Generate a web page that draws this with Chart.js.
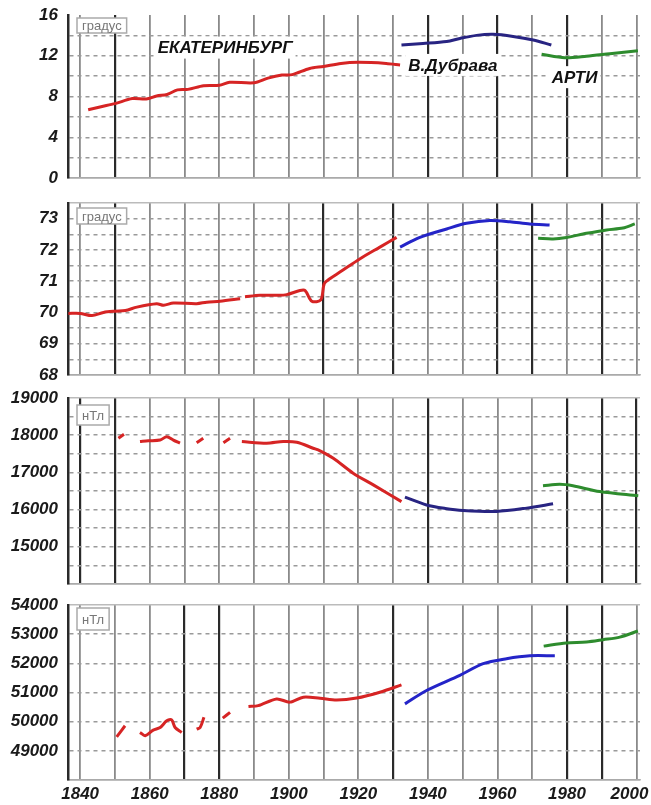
<!DOCTYPE html>
<html>
<head>
<meta charset="utf-8">
<script src="https://cdn.jsdelivr.net/npm/chart.js@4.4.1/dist/chart.umd.min.js"></script>
<style>
  body { margin: 0; background: #fff; width: 651px; height: 805px; position: relative; overflow: hidden; }
  canvas { position: absolute; left: 0; }
</style>
</head>
<body>
<canvas id="c1" width="651" height="188" style="top:0px"></canvas>
<canvas id="c2" width="651" height="195" style="top:190px"></canvas>
<canvas id="c3" width="651" height="210" style="top:385px"></canvas>
<canvas id="c4" width="651" height="215" style="top:590px"></canvas>
<script>
// x axis (years)
const xTicks = [1840, 1850, 1860, 1870, 1880, 1890, 1900, 1910, 1920, 1930, 1940, 1950, 1960, 1970, 1980, 1990, 2000];
const xLabels = [1840, 1860, 1880, 1900, 1920, 1940, 1960, 1980, 2000];

// panel 1 (градус, 0..16)
const p1Ticks = [0, 2, 4, 6, 8, 10, 12, 14, 16];
const p1Labels = [0, 4, 8, 12, 16];
const p1RedYears = [1842.3, 1846, 1850, 1855, 1859, 1862, 1865, 1868, 1871, 1875.5, 1880, 1883, 1890, 1894, 1898, 1901, 1906, 1910, 1915, 1920, 1928, 1932];
const p1RedVals = [6.7, 7.0, 7.3, 7.8, 7.75, 8.05, 8.2, 8.65, 8.7, 9.05, 9.1, 9.4, 9.35, 9.8, 10.1, 10.15, 10.75, 10.95, 11.25, 11.35, 11.25, 11.1];
const p1BlueYears = [1932.4, 1938.6, 1945.4, 1949.2, 1954, 1958.8, 1964.5, 1970.3, 1975.5];
const p1BlueVals = [13.05, 13.2, 13.4, 13.7, 14.0, 14.1, 13.9, 13.55, 13.05];
const p1GreenYears = [1972.7, 1979.4, 1985.6, 1992.3, 2000.4];
const p1GreenVals = [12.15, 11.8, 11.95, 12.2, 12.5];

// panel 2 (градус, 68..73.5)
const p2Ticks = [68, 68.5, 69, 69.5, 70, 70.5, 71, 71.5, 72, 72.5, 73, 73.5];
const p2Labels = [68, 69, 70, 71, 72, 73];
const p2RedYears = [1836.6, 1840, 1843.4, 1846.7, 1850, 1853, 1856.3, 1862, 1864, 1866.8, 1873.5, 1876.4, 1880.2, 1886, 1886.7,
  1887.4, 1891.7, 1896.5, 1899.4, 1903.2, 1904.7, 1906.6, 1909.2, 1910.2, 1911.8, 1914.7, 1920.5, 1926.2, 1931];
const p2RedVals = [69.97, 69.97, 69.9, 70.0, 70.04, 70.06, 70.17, 70.28, 70.23, 70.3, 70.28, 70.33, 70.36, 70.44, null,
  70.5, 70.55, 70.55, 70.57, 70.7, 70.7, 70.36, 70.4, 70.92, 71.08, 71.29, 71.72, 72.09, 72.4];
const p2BlueYears = [1932, 1937.7, 1945.4, 1951.1, 1957.8, 1963.6, 1969.3, 1975];
const p2BlueVals = [72.09, 72.4, 72.67, 72.85, 72.94, 72.9, 72.83, 72.8];
const p2GreenYears = [1971.7, 1976, 1979.9, 1985.6, 1991.4, 1996.1, 1999.5];
const p2GreenVals = [72.37, 72.35, 72.4, 72.53, 72.64, 72.7, 72.83];

// panel 3 (нТл, 14000..19000)
const p3Ticks = [14000, 14500, 15000, 15500, 16000, 16500, 17000, 17500, 18000, 18500, 19000];
const p3Labels = [15000, 16000, 17000, 18000, 19000];
const p3RedYears = [1851, 1852.6, 1855, 1857.2, 1859.6, 1863, 1864.9, 1866.8, 1868.7, 1871, 1873.5, 1875.4, 1878,
  1881.2, 1883.1, 1885, 1886.5, 1893.6, 1898.4, 1902.3, 1907, 1909, 1912.8, 1918.5, 1924.3, 1932.4];
const p3RedVals = [17920, 18025, null, 17830, 17850, 17870, 17960, 17870, 17785, null, 17800, 17920, null,
  17800, 17920, null, 17830, 17785, 17830, 17810, 17650, 17580, 17380, 16980, 16665, 16215];
const p3BlueYears = [1933.4, 1939.6, 1945, 1950.1, 1959.7, 1968.4, 1976];
const p3BlueVals = [16335, 16125, 16030, 15975, 15950, 16040, 16155];
const p3GreenYears = [1973.1, 1977.9, 1981.7, 1989.4, 2000.5];
const p3GreenVals = [16640, 16680, 16640, 16485, 16370];

// panel 4 (нТл, 48000..54000)
const p4Ticks = [48000, 49000, 50000, 51000, 52000, 53000, 54000];
const p4Labels = [49000, 50000, 51000, 52000, 53000, 54000];
const p4RedYears = [1850.5, 1852.9, 1855, 1857.2, 1858.7, 1861, 1863, 1864.9, 1866.3, 1867.3, 1869.2, 1871,
  1873.5, 1874.5, 1875.6, 1878, 1881, 1883.1, 1885,
  1888.4, 1891.2, 1896.5, 1900.3, 1904.2, 1909, 1913.8, 1919.5, 1926.2, 1932.4];
const p4RedVals = [49480, 49860, null, 49630, 49520, 49710, 49800, 50030, 50060, 49800, 49630, null,
  49745, 49800, 50150, null, 50120, 50320, null,
  50520, 50550, 50780, 50670, 50840, 50800, 50740, 50810, 51010, 51260];
const p4BlueYears = [1933.4, 1939.6, 1949.2, 1955.9, 1962.6, 1969.3, 1976.5];
const p4BlueVals = [50610, 51070, 51590, 51990, 52160, 52260, 52260];
const p4GreenYears = [1973.3, 1979.8, 1985.6, 1990.4, 1995.2, 2000.4];
const p4GreenVals = [52590, 52700, 52730, 52810, 52900, 53110];

// station names written in panel 1
const stationNames = ['ЕКАТЕРИНБУРГ', 'В.Дубрава', 'АРТИ'];
const stationAt = [[1881.7, 12.8], [1947.2, 11.1], [1982.2, 9.9]];

const RED = 'rgb(214,36,36)';
const GREEN = 'rgb(46,140,46)';
const NAVY = 'rgb(40,36,130)';
const BLUE = 'rgb(36,36,200)';
const FONT = "'Liberation Sans', Arial, sans-serif";

function line(years, vals, color) {
  return {
    data: years.map((x, i) => ({x: x, y: vals[i]})),
    borderColor: color,
    borderWidth: 3,
    pointRadius: 0,
    tension: 0.3,
    spanGaps: false,
    fill: false
  };
}

const notes = {
  id: 'notes',
  beforeDatasetsDraw(chart, args, opts) {
    const ctx = chart.ctx, area = chart.chartArea;
    ctx.save();
    ctx.font = '13px ' + FONT;
    const w = ctx.measureText(opts.unit).width + 10;
    const bx = area.left + 9, by = area.top + opts.boxDy;
    ctx.fillStyle = '#fff';
    ctx.fillRect(bx, by, w, opts.boxH);
    ctx.strokeStyle = '#aaa';
    ctx.lineWidth = 1.5;
    ctx.strokeRect(bx, by, w, opts.boxH);
    ctx.fillStyle = '#777';
    ctx.textBaseline = 'middle';
    ctx.textAlign = 'left';
    ctx.fillText(opts.unit, bx + 5, by + opts.boxH / 2 + 1);
    if (opts.names) {
      ctx.font = 'italic bold 17px ' + FONT;
      ctx.textAlign = 'center';
      opts.names.forEach((t, i) => {
        const x = chart.scales.x.getPixelForValue(stationAt[i][0]);
        const y = chart.scales.y.getPixelForValue(stationAt[i][1]);
        const tw = ctx.measureText(t).width;
        ctx.fillStyle = '#fff';
        ctx.fillRect(x - tw / 2 - 3, y - 11, tw + 6, 22);
        ctx.fillStyle = '#111';
        ctx.fillText(t, x, y + 1);
      });
    }
    ctx.restore();
  }
};

function panel(id, p) {
  return new Chart(id, {
    type: 'line',
    data: {datasets: p.datasets},
    plugins: [notes],
    options: {
      responsive: false,
      animation: false,
      devicePixelRatio: 1,
      layout: {padding: {top: p.padTop, bottom: p.padBottom, right: 11, left: 0}},
      plugins: {
        legend: {display: false},
        tooltip: {enabled: false},
        notes: {unit: p.unit, boxDy: p.boxDy, boxH: p.boxH, names: p.names}
      },
      scales: {
        x: {
          type: 'linear',
          min: 1836.5,
          max: 2001,
          afterBuildTicks: s => { s.ticks = xTicks.map(v => ({value: v})); },
          afterFit: s => { s.height = p.showX ? 25 : 0; s.paddingLeft = 0; s.paddingRight = 0; },
          grid: {
            drawTicks: false,
            color: c => p.dark.includes(c.tick.value) ? '#2a2a2a' : '#8a8a8a',
            lineWidth: c => p.dark.includes(c.tick.value) ? 2.2 : 1.8
          },
          border: {display: true, color: '#aaa', width: 1.5},
          ticks: {
            display: p.showX,
            maxRotation: 0,
            autoSkip: false,
            padding: 4,
            color: '#1a1a1a',
            font: {family: FONT, size: 17, weight: 'bold', style: 'italic'},
            // last label is pulled left so it stays inside the page
            callback: v => xLabels.includes(v) ? (v === 2000 ? '2000   ' : String(v)) : ''
          }
        },
        y: {
          min: p.yTicks[0],
          max: p.yTicks[p.yTicks.length - 1],
          afterBuildTicks: s => { s.ticks = p.yTicks.map(v => ({value: v})); },
          afterFit: s => { s.width = 68; s.paddingTop = 0; s.paddingBottom = 0; },
          grid: {
            drawTicks: false,
            color: c => {
              const v = c.tick.value;
              if (v === p.yTicks[p.yTicks.length - 1]) return p.topFrame ? '#bbb' : 'rgba(0,0,0,0)';
              if (v === p.yTicks[0]) return '#aaa';
              return '#9a9a9a';
            },
            lineWidth: 1.5
          },
          border: {
            display: true,
            color: '#2a2a2a',
            width: 2.5,
            dash: c => (c.tick && (c.tick.value === p.yTicks[0] || c.tick.value === p.yTicks[p.yTicks.length - 1])) ? [] : [4, 4]
          },
          ticks: {
            autoSkip: false,
            padding: 10,
            color: '#1a1a1a',
            font: {family: FONT, size: 17, weight: 'bold', style: 'italic'},
            callback: v => p.yLabels.includes(v) ? String(v) : ''
          }
        }
      }
    }
  });
}

panel('c1', {
  datasets: [line(p1RedYears, p1RedVals, RED), line(p1BlueYears, p1BlueVals, NAVY), line(p1GreenYears, p1GreenVals, GREEN)],
  yTicks: p1Ticks, yLabels: p1Labels, padTop: 15, padBottom: 10, showX: false, topFrame: false,
  dark: [1850, 1940, 1960, 1980], unit: 'градус', boxDy: 3, boxH: 15, names: stationNames
});
panel('c2', {
  datasets: [line(p2RedYears, p2RedVals, RED), line(p2BlueYears, p2BlueVals, BLUE), line(p2GreenYears, p2GreenVals, GREEN)],
  yTicks: p2Ticks, yLabels: p2Labels, padTop: 13, padBottom: 10, showX: false, topFrame: true,
  dark: [1850, 1910, 1930, 1960, 1970, 1990], unit: 'градус', boxDy: 5, boxH: 16
});
panel('c3', {
  datasets: [line(p3RedYears, p3RedVals, RED), line(p3BlueYears, p3BlueVals, NAVY), line(p3GreenYears, p3GreenVals, GREEN)],
  yTicks: p3Ticks, yLabels: p3Labels, padTop: 13, padBottom: 11, showX: false, topFrame: true,
  dark: [1840, 1850, 1940, 1980, 1990, 2000], unit: 'нТл', boxDy: 7, boxH: 20
});
panel('c4', {
  datasets: [line(p4RedYears, p4RedVals, RED), line(p4BlueYears, p4BlueVals, BLUE), line(p4GreenYears, p4GreenVals, GREEN)],
  yTicks: p4Ticks, yLabels: p4Labels, padTop: 15, padBottom: 0, showX: true, topFrame: true,
  dark: [1870, 1880, 1930, 1980, 1990], unit: 'нТл', boxDy: 3, boxH: 22
});
</script>
</body>
</html>
